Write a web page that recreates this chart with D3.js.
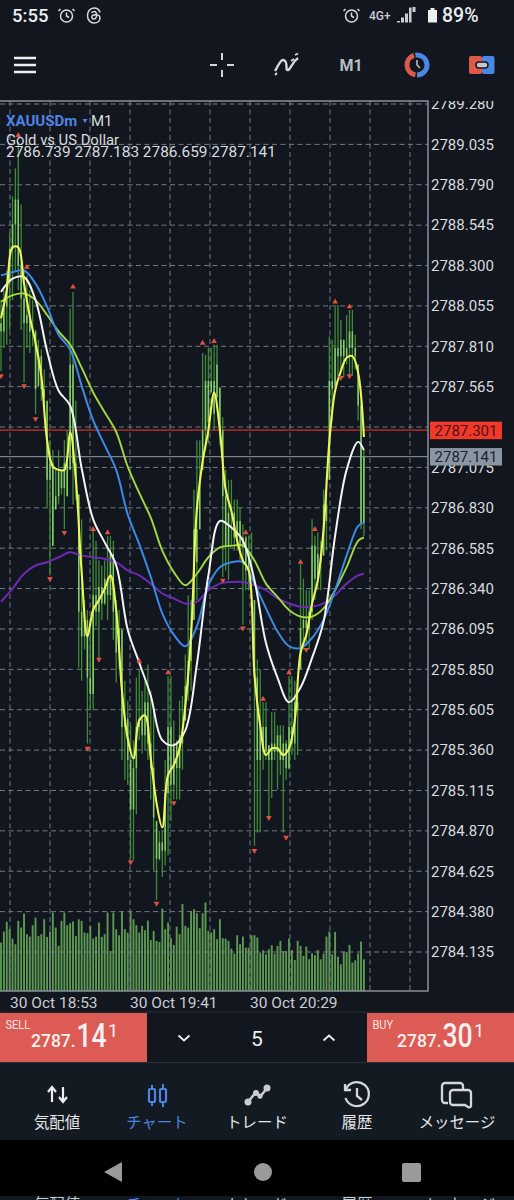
<!DOCTYPE html>
<html>
<head>
<meta charset="utf-8">
<script src="https://cdn.jsdelivr.net/npm/d3@7"></script>
<style>
  html, body { margin: 0; padding: 0; background: #11161f; }
  svg { display: block; font-family: Roboto, sans-serif; }
</style>
</head>
<body>
<div id="chart"></div>
<script>
'use strict';

// Price axis
var priceTicks = [2789.280, 2789.035, 2788.790, 2788.545, 2788.300, 2788.055, 2787.810, 2787.565, 2787.320,
  2787.075, 2786.830, 2786.585, 2786.340, 2786.095, 2785.850, 2785.605, 2785.360, 2785.115, 2784.870,
  2784.625, 2784.380, 2784.135];
var hiddenTick = 2787.320; // covered by the ask label in the app
var askPrice = 2787.301;
var bidPrice = 2787.141;
var timeLabels = ['30 Oct 18:53', '30 Oct 19:41', '30 Oct 20:29'];
var timeGridSlots = [0, 3, 6];
var gridSlots = [0, 1, 2, 3, 4, 5, 6, 7, 8, 9, 10];

// M1 candles, one entry per bar
var highs = [2788.09,2788.15,2788.27,2788.50,2788.72,2788.89,2789.05,2788.67,2788.27,2788.24,2788.15,2788.09,2787.91,2787.85,2787.79,2787.67,2787.48,2787.24,2787.18,2787.06,2787.18,2787.06,2787.24,2787.30,2788.04,2788.14,2787.48,2786.91,2786.76,2786.27,2786.21,2786.09,2786.70,2786.63,2786.51,2786.48,2786.51,2786.66,2786.66,2786.63,2786.27,2786.21,2786.09,2785.78,2785.66,2785.51,2785.42,2785.80,2785.85,2785.72,2785.78,2785.88,2785.72,2785.60,2784.93,2784.87,2784.87,2785.30,2785.81,2785.81,2785.54,2785.42,2785.66,2785.69,2785.94,2786.30,2786.27,2786.94,2787.24,2787.24,2787.77,2787.76,2787.80,2787.80,2787.82,2787.82,2787.56,2787.38,2787.06,2787.00,2787.00,2786.88,2786.88,2786.83,2786.73,2786.66,2786.66,2786.68,2786.27,2785.91,2785.85,2785.65,2785.65,2785.39,2785.59,2785.59,2785.51,2785.51,2785.51,2785.42,2785.81,2785.81,2785.78,2785.72,2786.49,2786.40,2786.33,2786.33,2786.76,2786.66,2786.68,2786.63,2786.94,2786.96,2787.87,2787.85,2788.05,2788.06,2787.97,2787.85,2788.00,2788.03,2788.03,2787.88,2787.70,2787.48,2787.183];
var lows = [2787.66,2787.80,2787.82,2787.91,2788.09,2788.27,2788.15,2787.91,2787.59,2787.80,2787.77,2787.81,2787.40,2787.57,2787.48,2787.42,2786.83,2786.42,2786.60,2786.82,2786.85,2786.91,2786.70,2786.90,2787.06,2786.85,2786.88,2785.86,2785.78,2785.97,2785.40,2785.60,2785.60,2786.11,2785.92,2786.15,2786.24,2786.15,2786.27,2786.03,2785.77,2785.85,2785.30,2785.18,2785.15,2784.70,2784.69,2784.97,2785.42,2785.34,2785.36,2785.30,2785.06,2784.63,2784.45,2784.69,2784.59,2784.66,2784.72,2784.93,2785.06,2785.06,2785.06,2785.24,2785.54,2785.66,2785.72,2786.15,2786.27,2786.70,2787.06,2787.18,2787.22,2787.53,2787.30,2787.50,2787.21,2786.41,2786.45,2786.39,2786.60,2786.57,2786.57,2786.51,2786.12,2786.33,2786.33,2786.45,2784.78,2784.86,2784.86,2785.24,2785.30,2784.95,2785.07,2785.30,2785.12,2785.21,2784.86,2785.18,2785.24,2785.33,2785.30,2785.33,2785.85,2785.97,2785.99,2785.97,2786.15,2786.27,2786.33,2786.33,2786.54,2786.57,2787.00,2787.36,2787.57,2787.62,2787.64,2787.62,2787.70,2787.64,2787.63,2787.67,2787.36,2786.70,2786.659];
var closes = [2787.90,2788.05,2788.20,2788.40,2788.55,2788.70,2788.30,2788.10,2787.95,2788.00,2787.90,2787.90,2787.55,2787.75,2787.55,2787.50,2787.00,2787.10,2786.60,2786.90,2787.05,2786.95,2787.10,2786.90,2787.70,2787.10,2787.00,2786.20,2786.05,2786.15,2785.80,2785.70,2786.30,2786.20,2786.35,2786.25,2786.40,2786.30,2786.55,2786.20,2785.95,2786.10,2785.50,2785.55,2785.30,2785.00,2785.25,2785.50,2785.55,2785.45,2785.65,2785.40,2785.25,2784.95,2784.70,2784.80,2784.75,2785.10,2785.50,2785.15,2785.40,2785.25,2785.45,2785.40,2785.75,2785.90,2786.10,2786.70,2786.50,2787.00,2787.30,2787.60,2787.35,2787.60,2787.40,2787.70,2787.30,2786.90,2786.60,2786.80,2786.80,2786.65,2786.75,2786.60,2786.65,2786.45,2786.55,2786.55,2785.80,2785.30,2785.50,2785.35,2785.50,2785.30,2785.40,2785.35,2785.45,2785.30,2785.40,2785.25,2785.50,2785.40,2785.65,2785.60,2786.10,2786.15,2786.10,2786.20,2786.60,2786.40,2786.55,2786.50,2786.85,2786.75,2787.60,2787.55,2787.80,2787.75,2787.85,2787.75,2787.80,2787.90,2787.80,2787.75,2787.45,2786.74,2787.141];
var firstOpen = 2787.95;

// Tick volume, same bars as the candles
var volumes = [145,178,207,185,157,140,210,190,232,170,163,197,220,165,170,215,162,178,235,190,135,210,235,197,203,208,165,215,210,175,173,195,157,163,205,162,170,235,120,235,185,167,238,185,175,240,215,197,175,195,182,211,153,180,150,147,247,185,205,158,138,193,170,261,195,190,240,245,233,188,233,265,180,175,185,155,215,158,157,150,127,112,167,140,163,130,130,167,167,160,115,122,110,125,137,112,135,150,120,120,157,123,93,150,135,105,133,95,113,107,122,95,112,163,178,110,177,103,80,118,117,138,85,92,112,148,95];

// Moving averages. The fast one is read every 2 bars, the others every 4
var fastBars = [0,2,4,6,8,10,12,14,16,18,20,22,24,26,28,30,32,34,36,38,40,42,44,46,48,50,52,54,56,58,60,62,64,66,68,70,72,74,76,78,80,82,84,86,88,90,92,94,96,98,100,102,104,106,108,110,112,114,116,118,120,122,124,126];
var yellowMa = [2787.98,2788.15,2788.41,2788.41,2788.19,2787.99,2787.83,2787.63,2787.24,2787.08,2787.06,2787.06,2787.29,2787.00,2786.44,2786.05,2786.21,2786.27,2786.34,2786.42,2786.21,2785.72,2785.43,2785.31,2785.54,2785.57,2785.31,2785.04,2784.89,2785.21,2785.27,2785.37,2785.63,2786.06,2786.82,2787.11,2787.30,2787.53,2787.30,2786.94,2786.81,2786.63,2786.51,2786.45,2785.82,2785.51,2785.33,2785.37,2785.37,2785.33,2785.37,2785.54,2785.95,2786.06,2786.25,2786.39,2786.70,2787.23,2787.54,2787.66,2787.74,2787.75,2787.65,2787.26];
var slowBars = [0,4,8,12,16,20,24,28,32,36,40,44,48,52,56,60,64,68,72,76,80,84,88,92,96,100,104,108,112,116,120,124,126];
var whiteMa = [2788.14,2788.22,2788.23,2788.09,2787.78,2787.54,2787.45,2787.07,2786.76,2786.62,2786.48,2786.09,2785.89,2785.69,2785.42,2785.39,2785.48,2785.88,2786.42,2786.75,2786.71,2786.63,2786.39,2786.01,2785.80,2785.65,2785.74,2785.92,2786.14,2786.66,2787.06,2787.23,2787.18];
var blueMa = [2788.24,2788.26,2788.27,2788.19,2788.05,2787.88,2787.79,2787.57,2787.36,2787.21,2787.06,2786.79,2786.61,2786.41,2786.19,2786.06,2785.99,2786.11,2786.36,2786.47,2786.50,2786.50,2786.37,2786.22,2786.08,2785.99,2785.98,2786.04,2786.15,2786.33,2786.54,2786.72,2786.74];
var greenMa = [2788.08,2788.12,2788.13,2788.09,2788.00,2787.90,2787.82,2787.68,2787.53,2787.41,2787.29,2787.08,2786.92,2786.77,2786.57,2786.44,2786.36,2786.43,2786.53,2786.59,2786.60,2786.60,2786.51,2786.37,2786.29,2786.21,2786.17,2786.17,2786.22,2786.33,2786.47,2786.63,2786.65];
var purpleMa = [2786.26,2786.34,2786.43,2786.48,2786.50,2786.53,2786.56,2786.54,2786.53,2786.52,2786.50,2786.45,2786.42,2786.37,2786.31,2786.28,2786.25,2786.26,2786.33,2786.37,2786.38,2786.38,2786.36,2786.33,2786.28,2786.25,2786.23,2786.23,2786.25,2786.30,2786.37,2786.42,2786.43];

// Fractal arrows
var upArrowBars = [6,9,25,32,37,48,58,70,74,85,91,100,104,109,116,121];
var upArrowPrices = [2789.09,2788.29,2788.17,2786.70,2786.68,2785.90,2785.83,2787.83,2787.84,2786.68,2785.67,2785.83,2786.50,2786.70,2788.08,2788.05];
var downArrowBars = [0,8,12,17,22,30,34,45,54,60,77,84,88,93,99,106,118,121];
var downArrowPrices = [2787.63,2787.57,2787.37,2786.40,2786.68,2785.37,2785.91,2784.68,2784.43,2785.04,2786.39,2786.10,2784.75,2784.95,2784.83,2785.97,2787.62,2787.63];

// Quote text and tabs
var headerQuote = ['2786.739', '2787.183', '2786.659', '2787.141'];
var tabLabels = ['気配値', 'チャート', 'トレード', '履歴', 'メッセージ'];
var tabCenters = [57, 157, 257, 357, 457];

var WIDTH = 514, HEIGHT = 1200;
var plot = { left: 0, right: 428, top: 101, bottom: 991 };
var TEXT = '#d9dbde', MUTED = '#c9ccd0', BLUE = '#4f83e3', GRID = '#747a83', FRAME = '#8b919b';

var svg = d3.select('#chart').append('svg').attr('width', WIDTH).attr('height', HEIGHT);
var defs = svg.append('defs');
defs.append('clipPath').attr('id', 'plot-clip').append('rect')
  .attr('x', plot.left).attr('y', plot.top).attr('width', plot.right - plot.left).attr('height', plot.bottom - plot.top);
defs.append('clipPath').attr('id', 'axis-clip').append('rect')
  .attr('x', plot.right).attr('y', plot.top).attr('width', WIDTH - plot.right).attr('height', plot.bottom - plot.top);

svg.append('rect').attr('width', WIDTH).attr('height', HEIGHT).attr('fill', '#11161f');

// Scales
var x = d3.scaleLinear().domain([0, 126]).range([1, 363.9]);
var y = d3.scaleLinear().domain([2789.28, 2784.135]).range([104, 952]);
var gridX = d3.scaleLinear().domain([0, 10]).range([10, 410]);
var volumeY = d3.scaleLinear().domain([0, 265]).range([plot.bottom, plot.bottom - 88.5]);

var chart = svg.append('g').attr('clip-path', 'url(#plot-clip)');

// Volume histogram sits under the grid
chart.append('g').selectAll('rect').data(volumes).join('rect')
  .attr('x', function (d, i) { return x(i) - 0.95; })
  .attr('width', 1.9)
  .attr('y', function (d) { return volumeY(d); })
  .attr('height', function (d) { return plot.bottom - volumeY(d); })
  .attr('fill', '#5c9a52');

// Grid
chart.append('g').selectAll('line').data(priceTicks).join('line')
  .attr('x1', plot.left).attr('x2', plot.right)
  .attr('y1', function (d) { return y(d); }).attr('y2', function (d) { return y(d); })
  .attr('stroke', GRID).attr('stroke-width', 1).attr('stroke-dasharray', '5,3.5');
chart.append('g').selectAll('line').data(gridSlots).join('line')
  .attr('x1', function (d) { return gridX(d); }).attr('x2', function (d) { return gridX(d); })
  .attr('y1', plot.top).attr('y2', plot.bottom)
  .attr('stroke', GRID).attr('stroke-width', 1).attr('stroke-dasharray', '5,3.5');

// Ask and bid lines
chart.append('line').attr('x1', plot.left).attr('x2', plot.right)
  .attr('y1', y(askPrice)).attr('y2', y(askPrice)).attr('stroke', '#c9332b').attr('stroke-width', 1.3);
chart.append('line').attr('x1', plot.left).attr('x2', plot.right)
  .attr('y1', y(bidPrice)).attr('y2', y(bidPrice)).attr('stroke', '#7d838c').attr('stroke-width', 1.3);

// Candles: dark wick with a brighter body
chart.append('g').selectAll('line').data(highs).join('line')
  .attr('x1', function (d, i) { return x(i); }).attr('x2', function (d, i) { return x(i); })
  .attr('y1', function (d) { return y(d); })
  .attr('y2', function (d, i) { return y(lows[i]); })
  .attr('stroke', '#3f8a38').attr('stroke-width', 1.3);
chart.append('g').selectAll('line').data(closes).join('line')
  .attr('x1', function (d, i) { return x(i); }).attr('x2', function (d, i) { return x(i); })
  .attr('y1', function (d, i) { return y(i === 0 ? firstOpen : Math.max(lows[i], Math.min(highs[i], closes[i - 1]))); })
  .attr('y2', function (d) { return y(d); })
  .attr('stroke', '#86cf68').attr('stroke-width', 1.5);

// Moving averages, slowest first
function drawMa(bars, values, colour, width) {
  var line = d3.line()
    .x(function (d, i) { return x(bars[i]); })
    .y(function (d) { return y(d); })
    .curve(d3.curveCatmullRom.alpha(0.5));
  chart.append('path').attr('d', line(values)).attr('fill', 'none')
    .attr('stroke', colour).attr('stroke-width', width).attr('stroke-linejoin', 'round');
}
drawMa(slowBars, purpleMa, '#6a2bb0', 2);
drawMa(slowBars, greenMa, '#a3d93e', 1.9);
drawMa(slowBars, blueMa, '#3d8ae6', 2);
drawMa(slowBars, whiteMa, '#f4f4f4', 2);
drawMa(fastBars, yellowMa, '#eef55a', 2.1);

// Arrows above highs and below lows
function drawArrows(bars, prices, rotate) {
  chart.append('g').selectAll('path').data(prices).join('path')
    .attr('d', d3.symbol().type(d3.symbolTriangle).size(14))
    .attr('transform', function (d, i) { return 'translate(' + x(bars[i]) + ',' + y(d) + ') rotate(' + rotate + ')'; })
    .attr('fill', '#e2503f');
}
drawArrows(upArrowBars, upArrowPrices, 0);
drawArrows(downArrowBars, downArrowPrices, 180);

// Frame
svg.append('path')
  .attr('d', 'M' + plot.left + ',' + plot.top + 'H' + plot.right + 'V' + plot.bottom + 'H' + plot.left)
  .attr('fill', 'none').attr('stroke', FRAME).attr('stroke-width', 1.5);

// Price axis
var priceAxis = d3.axisRight(y)
  .tickValues(priceTicks.filter(function (d) { return d !== hiddenTick; }))
  .tickSize(0).tickPadding(0)
  .tickFormat(d3.format('.3f'));
var axisG = svg.append('g').attr('clip-path', 'url(#axis-clip)').append('g')
  .attr('transform', 'translate(431,0)').call(priceAxis);
axisG.select('.domain').remove();
axisG.selectAll('text').attr('fill', TEXT).style('font-size', '15px').style('font-family', 'Roboto, sans-serif');

// Current price labels
function priceLabel(value, fill, ink) {
  svg.append('rect').attr('x', 430).attr('y', y(value) - 8.5).attr('width', 72).attr('height', 17.5).attr('fill', fill);
  svg.append('text').attr('x', 466).attr('y', y(value) + 5.5).attr('text-anchor', 'middle')
    .attr('font-size', 15).attr('fill', ink).text(d3.format('.3f')(value));
}
priceLabel(askPrice, '#f0392b', '#4a1512');
priceLabel(bidPrice, '#8a95a3', '#1d232c');

// Time axis labels
svg.append('g').selectAll('text').data(timeLabels).join('text')
  .attr('x', function (d, i) { return gridX(timeGridSlots[i]); })
  .attr('y', 1008).attr('font-size', 15.5).attr('fill', MUTED)
  .text(function (d) { return d; });

// Symbol header
svg.append('text').attr('x', 6).attr('y', 126).attr('font-size', 15).attr('font-weight', 700).attr('fill', BLUE).text('XAUUSDm');
svg.append('path').attr('d', 'M82.5,119h5l-2.5,4z').attr('fill', BLUE);
svg.append('text').attr('x', 91).attr('y', 126).attr('font-size', 15).attr('fill', TEXT).text('M1');
svg.append('text').attr('x', 6).attr('y', 145).attr('font-size', 14.8).attr('fill', TEXT).text('Gold vs US Dollar');
svg.append('text').attr('x', 6).attr('y', 157).attr('font-size', 15.4).attr('fill', TEXT).text(headerQuote.join(' '));

// ── Status bar ──────────────────────────────────────
function alarmIcon(cx, cy) {
  var g = svg.append('g').attr('transform', 'translate(' + cx + ',' + cy + ')')
    .attr('fill', 'none').attr('stroke', TEXT).attr('stroke-width', 1.5);
  g.append('circle').attr('r', 6);
  g.append('path').attr('d', 'M0,-3.5V0L2.5,1.5M-6,-7l-2,2M6,-7l2,2');
}
svg.append('text').attr('x', 12).attr('y', 22).attr('font-size', 18.5).attr('font-weight', 500).attr('fill', '#eceef0').text('5:55');
alarmIcon(66.5, 16);
// Threads glyph
var threads = svg.append('g').attr('transform', 'translate(94,15.5)').attr('fill', 'none').attr('stroke', TEXT).attr('stroke-width', 1.5);
threads.append('path').attr('d', 'M6,-3C5,-7 2,-7.5 0,-7.5C-4,-7.5 -6.5,-4 -6.5,0C-6.5,4 -4,7.5 0,7.5C4,7.5 6,5 6,2.5C6,-1 1,-1.5 -1.5,0C-3,1.5 -2,4 0,3.5C3,3 3,-1 2,-3C1,-4.5 -1.5,-4 -2.5,-2.5');
alarmIcon(351.5, 16);
svg.append('text').attr('x', 369).attr('y', 19.5).attr('font-size', 12).attr('font-weight', 500).attr('fill', MUTED).text('4G+');
svg.append('path').attr('d', 'M397,22.5h3v-1.5h-3zM401,22.5h3v-5h-3zM405,22.5h3v-9h-3zM409,22.5h2.5v-15h-2.5zM412.5,12h3v-5h-3z').attr('fill', MUTED);
svg.append('path').attr('d', 'M428,10h2.5v-2h4v2h2.5v12.5h-9z').attr('fill', '#eceef0');
svg.append('text').attr('x', 442).attr('y', 22).attr('font-size', 19.5).attr('font-weight', 500).attr('fill', '#eceef0').text('89%');

// ── Toolbar ─────────────────────────────────────────
svg.append('path').attr('d', 'M14,58H36M14,65H36M14,72H36').attr('stroke', '#eceef0').attr('stroke-width', 2.4);
svg.append('path').attr('d', 'M210,65h7M227,65h7M222,53v7M222,70v7').attr('stroke', '#d5d7da').attr('stroke-width', 2);
svg.append('path').attr('d', 'M275,71C280,62 282,58 285,61C288,64 285,71 288,70C291,69 292,62 298,58')
  .attr('fill', 'none').attr('stroke', '#d5d7da').attr('stroke-width', 2.4);
svg.append('path').attr('d', 'M275,75l2,-2M291,61l3,-2M295,55l3,-1.5').attr('stroke', '#d5d7da').attr('stroke-width', 1.8);
svg.append('text').attr('x', 351).attr('y', 71).attr('text-anchor', 'middle').attr('font-size', 16).attr('font-weight', 700).attr('fill', '#b9bcc1').text('M1');
// Clock icon, red half and blue half
var clockArc = d3.arc().innerRadius(7.5).outerRadius(12.5);
svg.append('path').attr('transform', 'translate(417,65)').attr('fill', '#dc5a47').attr('d', clockArc({ startAngle: Math.PI * 1.05, endAngle: Math.PI * 1.9 }));
svg.append('path').attr('transform', 'translate(417,65)').attr('fill', '#4a86e4').attr('d', clockArc({ startAngle: -Math.PI * 0.05, endAngle: Math.PI * 1.0 }));
svg.append('path').attr('d', 'M417,60v5l3,3').attr('fill', 'none').attr('stroke', '#cfd2d6').attr('stroke-width', 1.4);
// Account switch icon
svg.append('rect').attr('x', 469).attr('y', 56).attr('width', 13).attr('height', 18).attr('rx', 2).attr('fill', '#dc5a47');
svg.append('rect').attr('x', 482).attr('y', 56).attr('width', 12.5).attr('height', 18).attr('rx', 2).attr('fill', '#4a86e4');
svg.append('rect').attr('x', 476).attr('y', 62).attr('width', 12).attr('height', 6).attr('rx', 3).attr('fill', '#c4c8cd').attr('stroke', '#11161f').attr('stroke-width', 1.5);

// ── Order panel ─────────────────────────────────────
svg.append('rect').attr('x', 0).attr('y', 1012).attr('width', WIDTH).attr('height', 50.5).attr('fill', 'none').attr('stroke', '#2b3038').attr('stroke-width', 1);
function quotePanel(left, label, cents, big, small) {
  svg.append('rect').attr('x', left).attr('y', 1013).attr('width', 147).attr('height', 49).attr('fill', '#dc5b54');
  svg.append('text').attr('transform', 'translate(' + (left + 5.5) + ',1028.5) scale(0.85,1)')
    .attr('font-size', 13).attr('fill', '#f3e3e1').text(label);
  svg.append('text').attr('x', cents).attr('y', 1047).attr('font-size', 17.5).attr('font-weight', 500).attr('fill', '#fbf1f0').text('2787.');
  // The big digits are condensed in the app
  svg.append('text').attr('transform', 'translate(' + (cents + 45.5) + ',1047) scale(0.78,1)')
    .attr('font-size', 34).attr('font-weight', 500).attr('fill', '#fbf1f0').text(big);
  svg.append('text').attr('x', cents + 77).attr('y', 1037).attr('font-size', 18).attr('fill', '#fbf1f0').text(small);
}
quotePanel(0, 'SELL', 31, '14', '1');
quotePanel(367, 'BUY', 397, '30', '1');
svg.append('path').attr('d', 'M178.5,1035.5l5.5,5l5.5,-5M323.5,1040.5l5.5,-5l5.5,5').attr('fill', 'none').attr('stroke', '#eceef0').attr('stroke-width', 1.8);
svg.append('text').attr('x', 257).attr('y', 1046).attr('text-anchor', 'middle').attr('font-size', 21).attr('fill', '#eceef0').text('5');

// ── Tab bar ─────────────────────────────────────────
svg.append('rect').attr('x', 0).attr('y', 1063).attr('width', WIDTH).attr('height', 77).attr('fill', '#141a22');
svg.append('g').selectAll('text').data(tabLabels).join('text')
  .attr('x', function (d, i) { return tabCenters[i]; })
  .attr('y', 1128).attr('text-anchor', 'middle')
  .attr('font-family', '"Noto Sans CJK JP", sans-serif').attr('font-size', 15.4)
  .attr('fill', function (d, i) { return i === 1 ? BLUE : '#e4e6e8'; })
  .text(function (d) { return d; });
// Quotes arrows
svg.append('path').attr('d', 'M52,1102V1087M48,1092l4,-5l4,5M63,1087V1102M59,1097l4,5l4,-5').attr('fill', 'none').attr('stroke', '#eceef0').attr('stroke-width', 2.2);
// Chart candles
svg.append('path').attr('d', 'M152,1085V1106M163,1084V1107').attr('stroke', BLUE).attr('stroke-width', 2);
svg.append('rect').attr('x', 149).attr('y', 1089).attr('width', 6).attr('height', 13).attr('rx', 1).attr('fill', '#11161f').attr('stroke', BLUE).attr('stroke-width', 2.2);
svg.append('rect').attr('x', 160).attr('y', 1089).attr('width', 6).attr('height', 13).attr('rx', 1).attr('fill', '#11161f').attr('stroke', BLUE).attr('stroke-width', 2.2);
// Trade line
svg.append('path').attr('d', 'M248,1102L256,1092L260,1097L267,1088').attr('fill', 'none').attr('stroke', '#c9ccd0').attr('stroke-width', 2.6);
svg.append('g').selectAll('circle').data([[248, 1102, 3.5], [256, 1093, 3], [260, 1096, 2.6], [267, 1088, 3.5]]).join('circle')
  .attr('cx', function (d) { return d[0]; }).attr('cy', function (d) { return d[1]; }).attr('r', function (d) { return d[2]; }).attr('fill', '#c9ccd0');
// History clock
svg.append('path').attr('d', 'M346,1089A12,12 0 1 1 345.5,1098M345,1084v6h6M357,1088v8l5,4').attr('fill', 'none').attr('stroke', '#d5d7da').attr('stroke-width', 2.3);
// Messages
svg.append('path').attr('d', 'M448,1103h-3a3,3 0 0 1 -3,-3v-14a3,3 0 0 1 3,-3h15a3,3 0 0 1 3,3v3').attr('fill', 'none').attr('stroke', '#d5d7da').attr('stroke-width', 2.3);
svg.append('path').attr('d', 'M453,1090h15a3,3 0 0 1 3,3v13a2,2 0 0 1 -3,1l-3,-2h-12a3,3 0 0 1 -3,-3v-9a3,3 0 0 1 3,-3z').attr('fill', 'none').attr('stroke', '#d5d7da').attr('stroke-width', 2.3);

// ── Android nav bar ─────────────────────────────────
svg.append('rect').attr('x', 0).attr('y', 1140).attr('width', WIDTH).attr('height', 56).attr('fill', '#000');
svg.append('path').attr('d', 'M104,1172L122,1162V1182Z').attr('fill', '#9a9a9a');
svg.append('circle').attr('cx', 263).attr('cy', 1172).attr('r', 9).attr('fill', '#9a9a9a');
svg.append('rect').attr('x', 402).attr('y', 1163).attr('width', 19).attr('height', 19).attr('rx', 2).attr('fill', '#9a9a9a');

// Top of the tab labels from the next stitched screenshot
svg.append('g').selectAll('text').data(tabLabels).join('text')
  .attr('x', function (d, i) { return tabCenters[i]; })
  .attr('y', 1210).attr('text-anchor', 'middle')
  .attr('font-family', '"Noto Sans CJK JP", sans-serif').attr('font-size', 15.4)
  .attr('fill', function (d, i) { return i === 1 ? BLUE : '#c9ccd0'; })
  .text(function (d) { return d; });
</script>
</body>
</html>
